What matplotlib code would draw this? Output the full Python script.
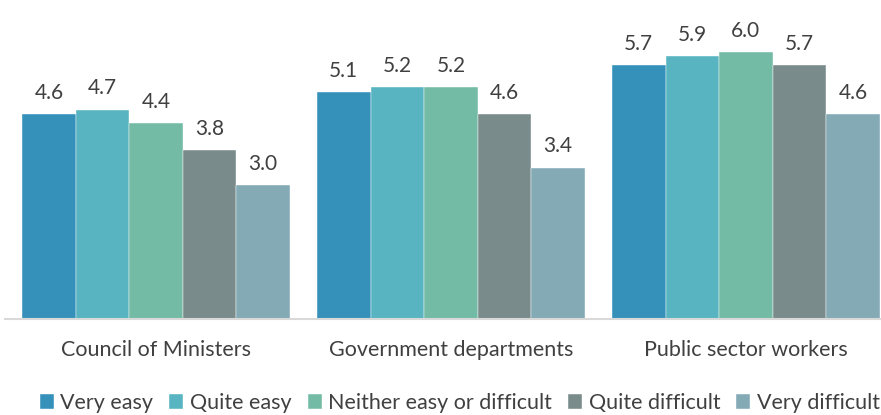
import numpy as np
import matplotlib.pyplot as plt

categories = ['Council of Ministers', 'Government departments', 'Public sector workers']
series = ['Very easy', 'Quite easy', 'Neither easy or difficult', 'Quite difficult', 'Very difficult']
values = [
    [4.6, 5.1, 5.7],
    [4.7, 5.2, 5.9],
    [4.4, 5.2, 6.0],
    [3.8, 4.6, 5.7],
    [3.0, 3.4, 4.6],
]
colors = ['#3591BA', '#57B4C0', '#74BBA6', '#7A8B8C', '#84AAB5']

plt.rcParams['font.family'] = ['Lato', 'DejaVu Sans']
txt = '#404040'

fig = plt.figure(figsize=(8.81, 4.15), dpi=100)
ax = fig.add_axes([5/881, 1 - 319/415, 876/881, 311/415])

x = np.arange(len(categories))
w = 0.908 / len(series)
for i, (s, vals) in enumerate(zip(series, values)):
    pos = x - 0.454 + w * (i + 0.5)
    bars = ax.bar(pos, vals, w, color=colors[i], label=s, edgecolor='white', linewidth=0.3)
    for b, v in zip(bars, vals):
        ax.annotate(f'{v:.1f}', (b.get_x() + b.get_width() / 2, v), xytext=(0, 8),
                    textcoords='offset points', ha='center', va='bottom',
                    fontsize=15, color=txt)

ax.set_xlim(-0.512, 2.458)
ax.set_ylim(0, 6.98)
ax.set_yticks([])
ax.set_xticks(x)
ax.set_xticklabels(categories, fontsize=15.5, color=txt)
ax.tick_params(axis='x', length=0, pad=15)
for sp in ['top', 'right', 'left']:
    ax.spines[sp].set_visible(False)
ax.spines['bottom'].set_color('#D9D9D9')
ax.spines['bottom'].set_linewidth(1.5)

fig.legend(loc='center', bbox_to_anchor=(0.522, 1 - 403/415), ncol=5, frameon=False,
           fontsize=15.5, handlelength=0.65, handleheight=0.65, handletextpad=0.3,
           columnspacing=0.75, labelcolor=txt)

fig.savefig('out.png', dpi=100)
